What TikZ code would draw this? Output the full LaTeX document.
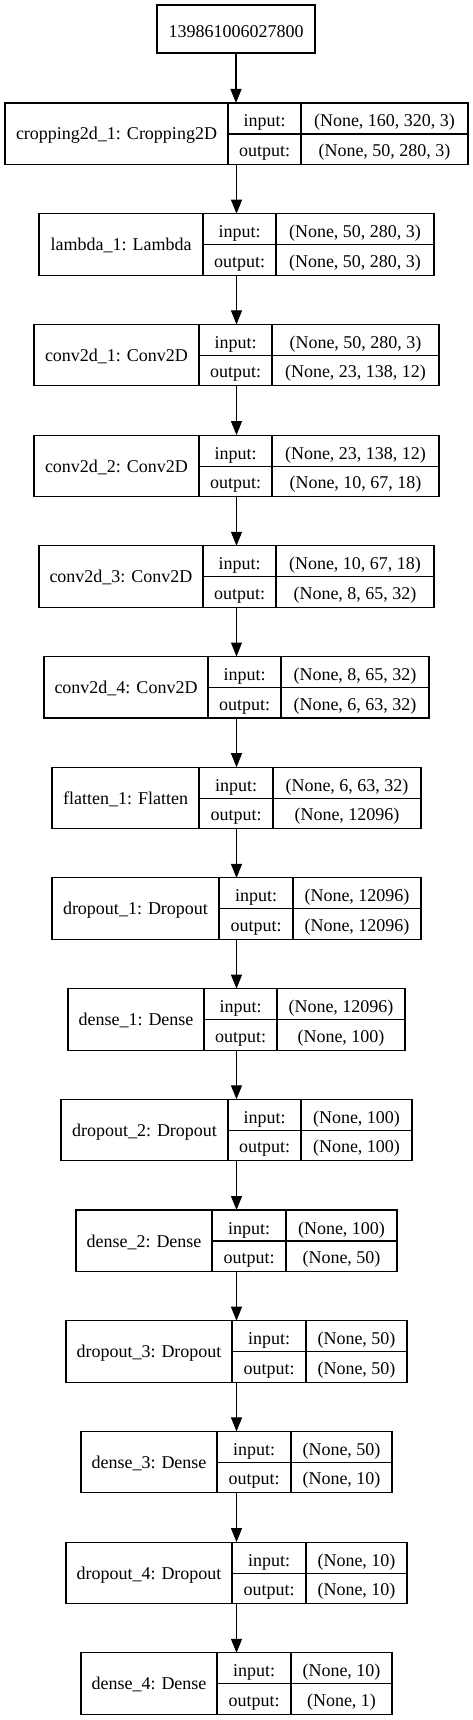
\documentclass[tikz,border=0pt]{standalone}
\usepackage{fontspec}
\setmainfont{Liberation Serif}
\usetikzlibrary{arrows.meta}
\tikzset{
  layerbox/.style={draw, line width=1.1pt, inner sep=0pt, outer sep=0pt, anchor=north west},
  txt/.style={inner sep=0pt, anchor=base, font=\fontsize{18}{20}\selectfont},
  conn/.style={line width=1.1pt, -{Triangle[length=14pt,width=11pt]}},
  cell/.style={line width=1.1pt}
}
% name, top, x1, d1, d2, x2, label, in, out
\newcommand\mylayer[9]{%
  \node[layerbox, minimum width={#6-#3}, minimum height=61.5pt] (#1) at (#3,#2) {};
  \draw[cell] (#4,#2) -- (#4,{#2+61.5});
  \draw[cell] (#5,#2) -- (#5,{#2+61.5});
  \draw[cell] (#4,{#2+31}) -- (#6,{#2+31});
  \node[txt] (#1l) at ({(#3+#4)/2},{#2+37}) {#7};
  \node[txt] (#1i) at ({(#4+#5)/2},{#2+24}) {input:};
  \node[txt] (#1o) at ({(#4+#5)/2},{#2+53.5}) {output:};
  \node[txt] (#1a) at ({(#5+#6)/2},{#2+24}) {#8};
  \node[txt] (#1b) at ({(#5+#6)/2},{#2+53.5}) {#9};
}
\begin{document}
\begin{tikzpicture}[x=1pt,y=-1pt]
\useasboundingbox (0,0) rectangle (473,1720);
\node[layerbox, minimum width=158pt, minimum height=48pt] (in) at (157,5) {};
\node[txt] (intxt) at (236,37.7) {139861006027800};
\mylayer{L0}{103}{5}{228}{301}{468}{cropping2d\_1: Cropping2D}{(None, 160, 320, 3)}{(None, 50, 280, 3)}
\mylayer{L1}{213.7}{39}{203}{276}{434}{lambda\_1: Lambda}{(None, 50, 280, 3)}{(None, 50, 280, 3)}
\mylayer{L2}{324.4}{34}{199}{272}{439}{conv2d\_1: Conv2D}{(None, 50, 280, 3)}{(None, 23, 138, 12)}
\mylayer{L3}{435.1}{34}{199}{272}{439}{conv2d\_2: Conv2D}{(None, 23, 138, 12)}{(None, 10, 67, 18)}
\mylayer{L4}{545.8}{39}{203}{276}{434}{conv2d\_3: Conv2D}{(None, 10, 67, 18)}{(None, 8, 65, 32)}
\mylayer{L5}{656.5}{44}{208}{281}{429}{conv2d\_4: Conv2D}{(None, 8, 65, 32)}{(None, 6, 63, 32)}
\mylayer{L6}{767.2}{52}{199}{273}{421}{flatten\_1: Flatten}{(None, 6, 63, 32)}{(None, 12096)}
\mylayer{L7}{877.9}{52}{219}{293}{421}{dropout\_1: Dropout}{(None, 12096)}{(None, 12096)}
\mylayer{L8}{988.6}{68}{204}{277}{405}{dense\_1: Dense}{(None, 12096)}{(None, 100)}
\mylayer{L9}{1099.3}{61}{228}{301}{412}{dropout\_2: Dropout}{(None, 100)}{(None, 100)}
\mylayer{L10}{1210}{76}{212}{286}{397}{dense\_2: Dense}{(None, 100)}{(None, 50)}
\mylayer{L11}{1320.7}{66}{232}{306}{407}{dropout\_3: Dropout}{(None, 50)}{(None, 50)}
\mylayer{L12}{1431.4}{81}{217}{291}{392}{dense\_3: Dense}{(None, 50)}{(None, 10)}
\mylayer{L13}{1542.1}{66}{232}{306}{407}{dropout\_4: Dropout}{(None, 10)}{(None, 10)}
\mylayer{L14}{1652.8}{81}{217}{291}{392}{dense\_4: Dense}{(None, 10)}{(None, 1)}
\draw[conn] (in.south) -- (in.south |- L0.north);
\foreach \a/\b in {L0/L1,L1/L2,L2/L3,L3/L4,L4/L5,L5/L6,L6/L7,L7/L8,L8/L9,L9/L10,L10/L11,L11/L12,L12/L13,L13/L14}
  \draw[conn] (\a.south) -- (\a.south |- \b.north);
\end{tikzpicture}
\end{document}
